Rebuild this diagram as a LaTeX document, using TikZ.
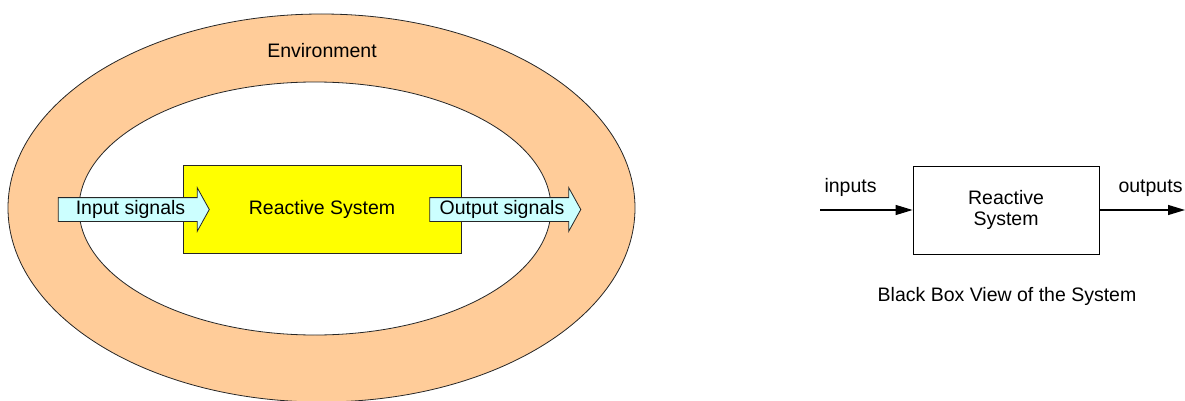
\documentclass[tikz,border=0pt]{standalone}
\usepackage{fontspec}
\setmainfont{Liberation Sans}
\usepackage{xcolor}
\usetikzlibrary{shapes.arrows,arrows.meta}
\definecolor{envpeach}{RGB}{255,204,153}
\definecolor{sigcyan}{RGB}{204,255,255}
\definecolor{boxyellow}{RGB}{255,255,0}

\begin{document}
\begin{tikzpicture}[x=1pt,y=-1pt,font=\fontsize{19.5}{23}\selectfont,
    sig/.style={shape=single arrow,draw=black!85,fill=sigcyan,line width=0.8pt,
      inner xsep=0pt,inner ysep=2.5pt,text height=14pt,text depth=4pt,
      single arrow head extend=10pt,single arrow tip angle=122,minimum height=151pt},
    flow/.style={-{Triangle[length=17pt,width=10pt]},line width=1.2pt}]
  \useasboundingbox (0,0) rectangle (1185,401);
  % environment ring
  \filldraw[fill=envpeach,draw=black!85,line width=0.8pt] (321.5,208) ellipse [x radius=313.5,y radius=194];
  \filldraw[fill=white,draw=black!85,line width=0.8pt] (315,208.5) ellipse [x radius=236,y radius=126.5];
  \node[anchor=base] (env) at (322,58) {Environment};
  \node[draw=black!85,fill=boxyellow,line width=0.8pt,minimum width=278pt,minimum height=88pt] (rs) at (322,209) {Reactive System};
  \node[sig] (insig) at (130.5,209.5) {Input signals};
  \node[sig] (outsig) at (502,209.5) {Output signals};

  % black box view
  \node[draw,line width=0.8pt,minimum width=186pt,minimum height=88pt,align=center,
    font=\fontsize{19.5}{20.5}\selectfont] (bb) at (1006,210) {Reactive\\System};
  \coordinate (inend) at (820,210);
  \coordinate (outend) at (1185,210);
  \draw[flow] (inend) -- (bb.west |- inend);
  \draw[flow] (bb.east |- outend) -- (outend);
  \node[anchor=base west] (inlbl) at (821,192) {inputs};
  \node[anchor=base west] (outlbl) at (1115,192) {outputs};
  \node[anchor=base] (bblbl) at (1007,301) {Black Box View of the System};
\end{tikzpicture}
\end{document}
